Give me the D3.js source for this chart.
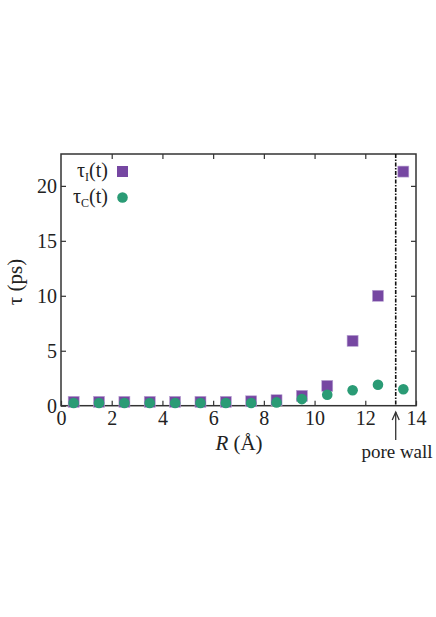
<!DOCTYPE html>
<html>
<head>
<meta charset="utf-8">
<script src="https://cdn.jsdelivr.net/npm/d3@7"></script>
<style>
  body { margin: 0; background: #fff; }
  text { font-family: "Liberation Serif", "DejaVu Serif", serif; fill: #222; }
</style>
</head>
<body>
<svg id="chart" width="436" height="617"></svg>
<script>
// radial bins (Å)
var radius = [0.5, 1.5, 2.5, 3.5, 4.5, 5.5, 6.5, 7.5, 8.5, 9.5, 10.5, 11.5, 12.5, 13.5];
// relaxation times (ps)
var tauI = [0.35, 0.35, 0.35, 0.35, 0.35, 0.35, 0.35, 0.4, 0.5, 0.9, 1.8, 5.9, 10.0, 21.3];
var tauC = [0.25, 0.25, 0.25, 0.25, 0.25, 0.25, 0.25, 0.25, 0.3, 0.6, 1.0, 1.4, 1.9, 1.5];
var xTicks = [0, 2, 4, 6, 8, 10, 12, 14];
var yTicks = [0, 5, 10, 15, 20];
var poreWall = 13.2;

var svg = d3.select('#chart');
var pLeft = 61, pRight = 416, pTop = 154, pBottom = 405.7;

var x = d3.scaleLinear().domain([0, 14]).range([pLeft, pRight]);
var y = d3.scaleLinear().domain([0, 22.9]).range([pBottom, pTop]);

// frame
svg.append('rect')
  .attr('x', pLeft).attr('y', pTop)
  .attr('width', pRight - pLeft).attr('height', pBottom - pTop)
  .attr('fill', 'none').attr('stroke', '#333').attr('stroke-width', 1.5);

// axes, ticks inward on all sides
var tickLen = 5;
svg.append('g').attr('transform', 'translate(0,' + pBottom + ')')
  .call(d3.axisBottom(x).tickValues(xTicks).tickSize(-tickLen).tickPadding(5))
  .call(function(g) { g.select('.domain').remove(); });
svg.append('g').attr('transform', 'translate(0,' + pTop + ')')
  .call(d3.axisTop(x).tickValues(xTicks.slice(1, -1)).tickSize(-tickLen).tickFormat(''))
  .call(function(g) { g.select('.domain').remove(); });
svg.append('g').attr('transform', 'translate(' + pLeft + ',0)')
  .call(d3.axisLeft(y).tickValues(yTicks).tickSize(-tickLen).tickPadding(4))
  .call(function(g) { g.select('.domain').remove(); });
svg.append('g').attr('transform', 'translate(' + pRight + ',0)')
  .call(d3.axisRight(y).tickValues(yTicks.slice(1)).tickSize(-tickLen).tickFormat(''))
  .call(function(g) { g.select('.domain').remove(); });

svg.selectAll('.tick line').attr('stroke', '#333').attr('stroke-width', 1.2);
svg.selectAll('.tick text')
  .style('font-family', '"Liberation Serif", serif')
  .style('font-size', '20px').attr('fill', '#222');

// pore wall line
svg.append('line')
  .attr('x1', x(poreWall)).attr('x2', x(poreWall))
  .attr('y1', pTop).attr('y2', pBottom)
  .attr('stroke', '#111').attr('stroke-width', 1.6)
  .attr('stroke-dasharray', '4,1.5,1.5,1.5');

var purple = '#7647a2', green = '#2a9b75';
var sq = 11, rad = 5.3;

// tau_I squares
svg.append('g').selectAll('rect')
  .data(radius)
  .enter().append('rect')
  .attr('x', function(d) { return x(d) - sq / 2; })
  .attr('y', function(d, i) { return y(tauI[i]) - sq / 2; })
  .attr('width', sq).attr('height', sq)
  .attr('fill', purple).attr('stroke', '#b9a3d3').attr('stroke-width', 0.6);

// tau_C circles
svg.append('g').selectAll('circle')
  .data(radius)
  .enter().append('circle')
  .attr('cx', function(d) { return x(d); })
  .attr('cy', function(d, i) { return y(tauC[i]); })
  .attr('r', rad)
  .attr('fill', green);

// legend
var lg = svg.append('g');
var l1 = lg.append('text').attr('x', 108).attr('y', 177).attr('text-anchor', 'end').style('font-size', '20px');
l1.append('tspan').text('τ');
l1.append('tspan').attr('dy', 4).style('font-size', '12px').text('I');
l1.append('tspan').attr('dy', -4).text('(t)');
lg.append('rect').attr('x', 117).attr('y', 166).attr('width', sq).attr('height', sq).attr('fill', purple);
var l2 = lg.append('text').attr('x', 108).attr('y', 203).attr('text-anchor', 'end').style('font-size', '20px');
l2.append('tspan').text('τ');
l2.append('tspan').attr('dy', 4).style('font-size', '12px').text('C');
l2.append('tspan').attr('dy', -4).text('(t)');
lg.append('circle').attr('cx', 122.5).attr('cy', 197.5).attr('r', rad).attr('fill', green);

// axis titles
svg.append('text')
  .attr('transform', 'translate(22,282) rotate(-90)')
  .attr('text-anchor', 'middle').style('font-size', '21px')
  .text('τ (ps)');
svg.append('text')
  .attr('x', 239).attr('y', 450).attr('text-anchor', 'middle').style('font-size', '21px')
  .html('<tspan font-style="italic">R</tspan> (Å)');

// pore wall annotation
svg.append('line')
  .attr('x1', x(poreWall)).attr('x2', x(poreWall))
  .attr('y1', 440).attr('y2', 412)
  .attr('stroke', '#333').attr('stroke-width', 1.3);
svg.append('path')
  .attr('d', 'M' + (x(poreWall) - 3.5) + ',420 L' + x(poreWall) + ',412 L' + (x(poreWall) + 3.5) + ',420')
  .attr('fill', 'none').attr('stroke', '#333').attr('stroke-width', 1.3);
svg.append('text')
  .attr('x', 397).attr('y', 458).attr('text-anchor', 'middle').style('font-size', '19px')
  .text('pore wall');
</script>
</body>
</html>
